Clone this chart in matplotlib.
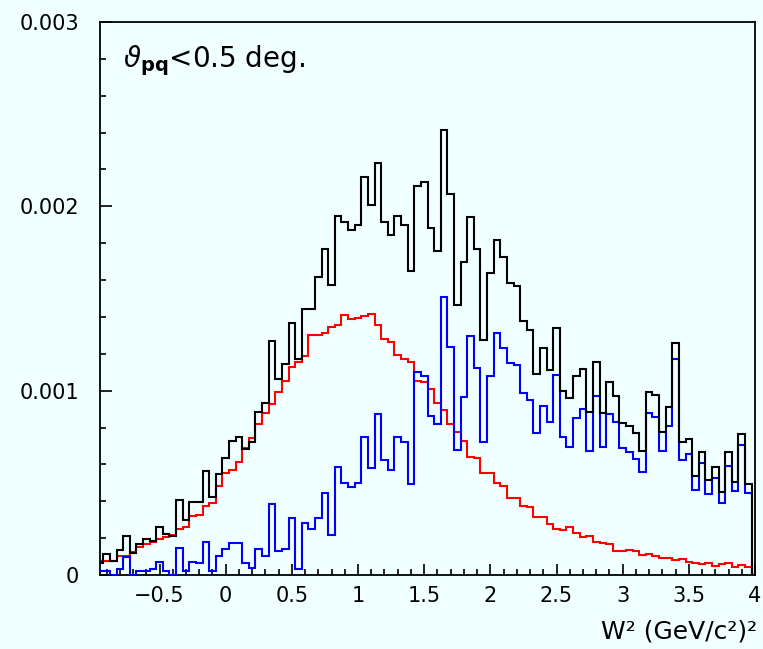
import numpy as np
import matplotlib
matplotlib.use("Agg")
import matplotlib.pyplot as plt
from matplotlib.ticker import MultipleLocator

# histogram contents (units of 1e-3), bins of 0.05 centred on -0.95 ... 3.95
total = [0.063, 0.114, 0.078, 0.136, 0.213, 0.121, 0.166, 0.195, 0.186, 0.262,
         0.222, 0.213, 0.407, 0.298, 0.394, 0.398, 0.564,
         0.421, 0.546, 0.633, 0.729, 0.751, 0.684, 0.724, 0.886, 0.931,
         1.270, 1.063, 1.143, 1.369, 1.170, 1.441, 1.441,
         1.615, 1.769, 1.574, 1.950, 1.917, 1.872, 1.899, 2.158, 2.008,
         2.237, 1.914, 1.845, 1.950, 1.899, 1.651, 2.111, 2.134,
         1.881, 1.760, 2.415, 2.067, 1.465, 1.697, 1.944, 1.769, 1.275,
         1.640, 1.818, 1.727, 1.586, 1.568, 1.378, 1.329, 1.091,
         1.233, 1.112, 1.342, 1.000, 0.962, 1.081, 1.116, 0.886, 1.157,
         0.881, 1.049, 0.973, 0.826, 0.808, 0.769, 0.673, 0.995,
         0.977, 0.778, 0.910, 1.261, 0.720, 0.738, 0.539, 0.669, 0.515,
         0.588, 0.449, 0.666, 0.506, 0.765, 0.494]

red = [0.076, 0.076, 0.076, 0.105, 0.105, 0.127, 0.154, 0.166, 0.181, 0.194,
       0.208, 0.215, 0.250, 0.260, 0.320, 0.327, 0.374,
       0.389, 0.483, 0.552, 0.570, 0.615, 0.687, 0.742, 0.818, 0.877,
       0.928, 0.995, 1.053, 1.130, 1.154, 1.190, 1.302,
       1.302, 1.315, 1.347, 1.357, 1.411, 1.389, 1.396, 1.407, 1.416,
       1.357, 1.279, 1.266, 1.194, 1.172, 1.157, 1.054, 1.045,
       1.008, 0.935, 0.895, 0.819, 0.778, 0.727, 0.639, 0.633, 0.552,
       0.555, 0.497, 0.483, 0.420, 0.420, 0.376, 0.371, 0.317,
       0.317, 0.275, 0.250, 0.244, 0.259, 0.226, 0.208, 0.212, 0.181,
       0.175, 0.166, 0.130, 0.130, 0.136, 0.130, 0.109, 0.112,
       0.103, 0.094, 0.094, 0.081, 0.087, 0.072, 0.063, 0.058, 0.067,
       0.051, 0.058, 0.063, 0.045, 0.054, 0.042]

blue = [0.023, 0.023, 0.0, 0.033, 0.100, 0.0, 0.023, 0.023, 0.033, 0.069,
        0.023, 0.0, 0.145, 0.023, 0.069, 0.063, 0.177,
        0.024, 0.103, 0.139, 0.172, 0.172, 0.063, 0.036, 0.139, 0.103,
        0.385, 0.132, 0.141, 0.311, 0.033, 0.284, 0.248,
        0.307, 0.447, 0.217, 0.588, 0.501, 0.479, 0.501, 0.750, 0.582,
        0.874, 0.624, 0.570, 0.750, 0.724, 0.492, 1.103, 1.081,
        0.865, 0.818, 1.510, 1.239, 0.678, 0.964, 1.297, 1.125, 0.724,
        1.080, 1.311, 1.230, 1.152, 1.139, 0.989, 0.950, 0.772,
        0.917, 0.828, 1.085, 0.751, 0.696, 0.850, 0.901, 0.673, 0.973,
        0.696, 0.874, 0.832, 0.691, 0.666, 0.628, 0.561, 0.881,
        0.859, 0.675, 0.808, 1.170, 0.624, 0.655, 0.461, 0.609, 0.438,
        0.528, 0.389, 0.593, 0.456, 0.705, 0.443]

xticks = [-0.5, 0, 0.5, 1, 1.5, 2, 2.5, 3, 3.5, 4]
xtick_labels = ["\u22120.5", "0", "0.5", "1", "1.5", "2", "2.5", "3", "3.5", "4"]
yticks = [0, 0.001, 0.002, 0.003]
ytick_labels = ["0", "0.001", "0.002", "0.003"]

# bin edges
edges = -0.975 + 0.05 * np.arange(len(total) + 1)

bg = "#f0ffff"
fig = plt.figure(figsize=(7.63, 6.49), dpi=100, facecolor=bg)
ax = fig.add_axes([100 / 763, 1 - 575 / 649, 655 / 763, 553 / 649])
ax.set_facecolor(bg)

ax.stairs(np.array(red) * 1e-3, edges, color="#ff0000", lw=1.5, zorder=2)
ax.stairs(np.array(blue) * 1e-3, edges, color="#0000ff", lw=1.5, zorder=3)
ax.stairs(np.array(total) * 1e-3, edges, color="black", lw=1.5, zorder=4)

ax.set_xlim(-0.95, 4.0)
ax.set_ylim(0, 0.003)

ax.set_xticks(xticks)
ax.set_xticklabels(xtick_labels)
ax.set_yticks(yticks)
ax.set_yticklabels(ytick_labels)
ax.xaxis.set_minor_locator(MultipleLocator(0.1))
ax.yaxis.set_minor_locator(MultipleLocator(0.0002))

ax.tick_params(which="both", direction="in", top=False, right=False,
               labelsize=15, width=1.2)
ax.tick_params(axis="x", which="major", length=8, pad=8)
ax.tick_params(axis="x", which="minor", length=4)
ax.tick_params(axis="y", which="major", length=8.5, pad=15)
ax.tick_params(axis="y", which="minor", length=4.5)

for s in ax.spines.values():
    s.set_linewidth(1.3)

ax.text(0.035, 0.93, r"$\vartheta_{\mathbf{pq}}$<0.5 deg.", transform=ax.transAxes,
        fontsize=20, ha="left", va="center")

fig.text(757 / 763, 1 - 632 / 649, "W\u00b2 (GeV/c\u00b2)\u00b2",
         fontsize=18, ha="right", va="center")

fig.savefig("out.png", dpi=100, facecolor=bg)
